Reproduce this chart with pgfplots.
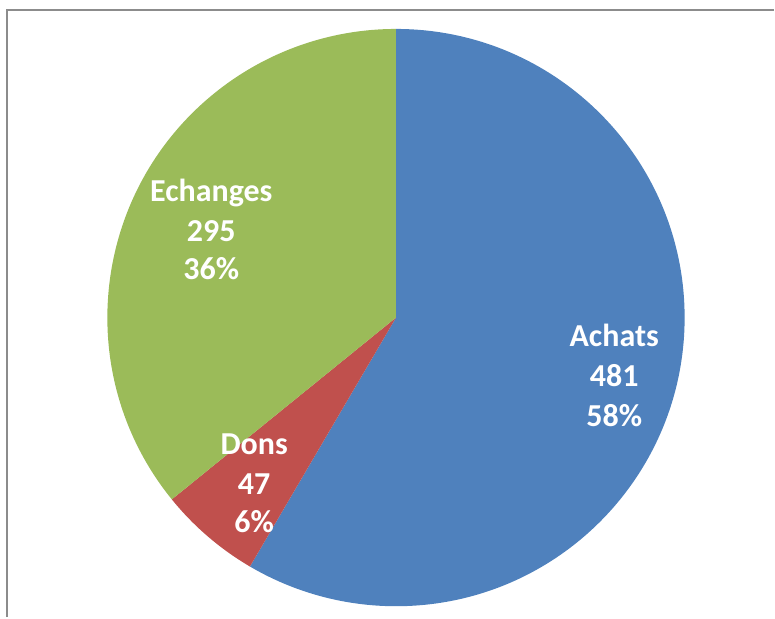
\documentclass[border=0pt]{standalone}
\usepackage{pgfplots}
\usepackage{pgfplotstable}
\usepackage{fontspec}
\setmainfont{Carlito}
\pgfplotsset{compat=1.18}
\definecolor{cblue}{HTML}{4F81BD}
\definecolor{cred}{HTML}{C0504D}
\definecolor{cgreen}{HTML}{9BBB59}
\definecolor{cframe}{HTML}{8C8C8C}
\pgfplotstableread{
label value
Achats 481
Dons 47
Echanges 295
}\piedata
\begin{document}
\begin{tikzpicture}
\pgfplotstablegetelem{0}{value}\of\piedata \edef\va{\pgfplotsretval}
\pgfplotstablegetelem{1}{value}\of\piedata \edef\vb{\pgfplotsretval}
\pgfplotstablegetelem{2}{value}\of\piedata \edef\vc{\pgfplotsretval}
\pgfmathsetmacro{\tot}{\va+\vb+\vc}
\pgfmathsetmacro{\aA}{90-360*(\va/\tot)}
\pgfmathsetmacro{\aB}{\aA-360*(\vb/\tot)}
\begin{axis}[
  x=1bp, y=1bp, xmin=0, xmax=775, ymin=0, ymax=618,
  hide axis, clip=false, scale only axis,
]
\path (axis cs:0,0) rectangle (axis cs:775,618);
\draw[cframe, line width=2bp] (axis cs:6.7,0) -- (axis cs:6.7,607.5) -- (axis cs:775,607.5);
\fill[cblue] (axis cs:396.5,300) -- ++(90:289bp) arc[start angle=90, end angle=\aA, radius=289bp] -- cycle;
\fill[cred] (axis cs:396.5,300) -- ++(\aA:289bp) arc[start angle=\aA, end angle=\aB, radius=289bp] -- cycle;
\fill[cgreen] (axis cs:396.5,300) -- ++(\aB:289bp) arc[start angle=\aB, end angle=-270, radius=289bp] -- cycle;
\begin{scope}[every node/.style={text=white, font=\fontsize{32bp}{40bp}\selectfont\bfseries, anchor=base, inner sep=0pt}]
\node at (axis cs:615,271) {Achats};
\node at (axis cs:615,231) {481};
\node at (axis cs:615,191) {58\%};
\node at (axis cs:254.5,163) {Dons};
\node at (axis cs:254.5,123) {47};
\node at (axis cs:254.5,85) {6\%};
\node at (axis cs:211.5,416) {Echanges};
\node at (axis cs:211.5,376) {295};
\node at (axis cs:211.5,338) {36\%};
\end{scope}
\end{axis}
\end{tikzpicture}
\end{document}
